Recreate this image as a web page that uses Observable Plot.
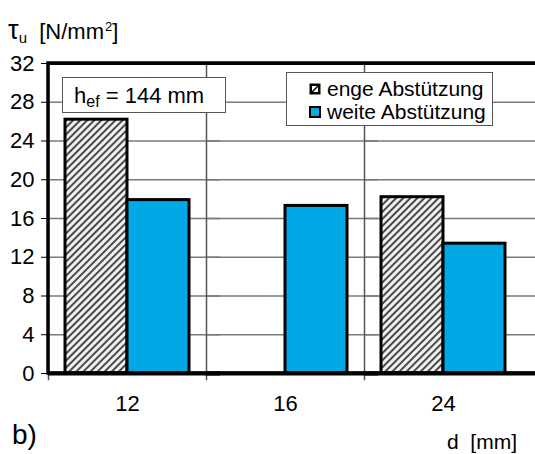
<!DOCTYPE html>
<html>
<head>
<meta charset="utf-8">
<script src="https://cdn.jsdelivr.net/npm/d3@7"></script>
<script src="https://cdn.jsdelivr.net/npm/@observablehq/plot@0.6"></script>
<style>
  body { margin: 0; background: #fff; }
  #wrap { position: relative; width: 535px; height: 454px; overflow: hidden; font-family: "Liberation Sans", Arial, sans-serif; color: #000; }
  #wrap > svg { display: block; }
  .lbl { position: absolute; white-space: nowrap; line-height: 1; }
  .box { position: absolute; background: #fff; border: 1px solid #555; box-sizing: border-box; }
  .row { position: absolute; font-size: 21px; line-height: 1; white-space: nowrap; }
  .sw { position: absolute; left: -18px; top: 5px; width: 12px; height: 12px; }
</style>
</head>
<body>
<div id="wrap"></div>
<script>
// Bond strength by anchor diameter, for two support configurations
const categories = ["12", "16", "24"];
const series = ["enge Abstützung", "weite Abstützung"];
const enge = [26.2, null, 18.2];
const weite = [17.9, 17.3, 13.4];
const yTicks = [0, 4, 8, 12, 16, 20, 24, 28, 32];

const rows = [];
categories.forEach((d, i) => {
  if (enge[i] != null) rows.push({d, series: series[0], tau: enge[i]});
  if (weite[i] != null) rows.push({d, series: series[1], tau: weite[i]});
});

const chart = Plot.plot({
  width: 535,
  height: 454,
  marginTop: 63,
  marginBottom: 81,
  marginLeft: 47,
  marginRight: 0,
  style: {fontFamily: "'Liberation Sans', Arial, sans-serif", fontSize: "22px", color: "#000", background: "transparent"},
  fx: {domain: categories, range: [47, 523], padding: 0, label: null},
  x: {domain: series, paddingInner: 0, paddingOuter: 0.26, axis: null},
  y: {domain: [0, 32], label: null},
  color: {domain: series, range: ["url(#hatch)", "#00A9E6"]},
  marks: [
    // horizontal grid, running on past the last group to the edge
    Plot.ruleY(yTicks, {stroke: "#7a7a7a", strokeWidth: 1.5, insetRight: -14}),
    // group separators, each with a short tick below the axis
    Plot.frame({anchor: "left", stroke: "#555", strokeWidth: 1.5, insetBottom: -6}),
    Plot.barY(rows, {fx: "d", x: "series", y: "tau", fill: "series", stroke: "#000", strokeWidth: 3}),
    // heavy plot border: top, bottom and left edge
    Plot.ruleY([0], {stroke: "#000", strokeWidth: 4, insetRight: -14}),
    Plot.ruleY([32], {stroke: "#000", strokeWidth: 3, insetRight: -14}),
    Plot.rect(categories.slice(0, 1), {fx: d => d, fill: "none", stroke: "#000", strokeWidth: 3.5, insetRight: -600}),
    Plot.axisY(yTicks, {tickSize: 7, tickPadding: 7, label: null, strokeWidth: 1}),
    Plot.axisFx({anchor: "bottom", tickSize: 0, tickPadding: 22, label: null})
  ]
});

// diagonal hatch used for the "enge" bars
const ns = "http://www.w3.org/2000/svg";
const defs = document.createElementNS(ns, "defs");
defs.innerHTML =
  '<pattern id="hatch" patternUnits="userSpaceOnUse" width="5" height="5" patternTransform="rotate(45)">' +
  '<rect width="5" height="5" fill="#f0f0f0"/>' +
  '<rect width="2" height="5" fill="#4a4a4a"/>' +
  '</pattern>';
chart.insertBefore(defs, chart.firstChild);

const wrap = document.getElementById("wrap");
wrap.appendChild(chart);

// axis titles, panel tag, annotation box and legend
wrap.insertAdjacentHTML("beforeend", `
  <div class="lbl" style="left:8px; top:17px; font-size:22px;"><span style="font-size:27px;">τ</span><span style="font-size:15px; position:relative; top:4px;">u</span>&nbsp;&nbsp;[N/mm<span style="font-size:13px; position:relative; top:-8px; margin-left:1px;">2</span>]</div>
  <div class="lbl" style="left:12px; top:421px; font-size:28px;">b)</div>
  <div class="lbl" style="left:447px; top:431px; font-size:21px;">d&nbsp;&nbsp;[mm]</div>
  <div class="box" style="left:62px; top:77px; width:164px; height:36px;">
    <div class="lbl" style="left:11px; top:7px; font-size:22px;">h<span style="font-size:16px; position:relative; top:4px;">ef</span> = 144 mm</div>
  </div>
  <div class="box" style="left:286px; top:72px; width:207px; height:54px;">
    <div class="row" style="top:5px; left:40px;">
      <svg class="sw" viewBox="0 0 12 12"><rect x="0.5" y="0.5" width="11" height="11" fill="#000"/><rect x="3" y="3" width="6" height="6" fill="#fff"/><path d="M3 9 L9 3" stroke="#000" stroke-width="1.5"/></svg>
      enge Abstützung</div>
    <div class="row" style="top:28px; left:40px;">
      <svg class="sw" viewBox="0 0 12 12"><rect x="1" y="1" width="10" height="10" fill="#00A9E6" stroke="#000" stroke-width="2"/></svg>
      weite Abstützung</div>
  </div>
`);
</script>
</body>
</html>
